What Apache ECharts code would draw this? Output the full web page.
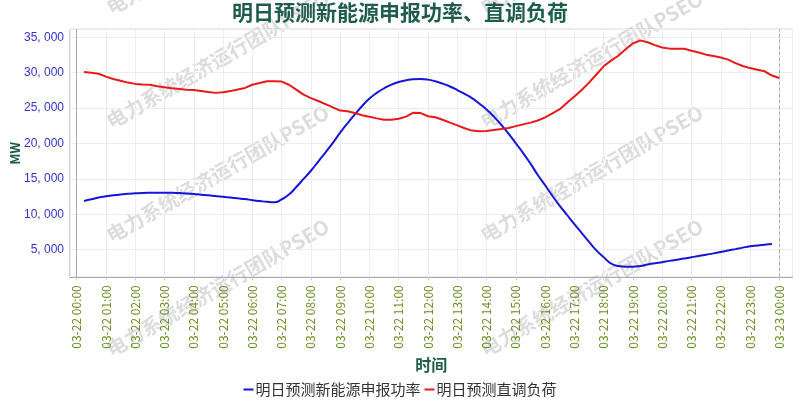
<!DOCTYPE html>
<html>
<head>
<meta charset="utf-8">
<script src="https://cdn.jsdelivr.net/npm/echarts@6/dist/echarts.min.js"></script>
<style>html,body{margin:0;padding:0;background:#fff;}#chart{width:800px;height:400px;}</style>
</head>
<body>
<div id="chart"></div>
<script>
// ---- data ----
const titleText = '明日预测新能源申报功率、直调负荷';
const seriesNames = ['明日预测新能源申报功率', '明日预测直调负荷'];
const xTickLabels = ['03-22 00:00','03-22 01:00','03-22 02:00','03-22 03:00','03-22 04:00','03-22 05:00',
  '03-22 06:00','03-22 07:00','03-22 08:00','03-22 09:00','03-22 10:00','03-22 11:00','03-22 12:00',
  '03-22 13:00','03-22 14:00','03-22 15:00','03-22 16:00','03-22 17:00','03-22 18:00','03-22 19:00',
  '03-22 20:00','03-22 21:00','03-22 22:00','03-22 23:00','03-23 00:00'];
const dayBoundaries = [0, 24];
// 15-minute points 00:15 .. 24:00
const pad = n => (n < 10 ? '0' : '') + n;
const times = [];
for (let m = 15; m <= 1440; m += 15) times.push(pad(Math.floor(m / 60)) + ':' + pad(m % 60));
const newEnergy = [
  11880, 12120, 12380, 12540,
  12680, 12800, 12900, 12960,
  13010, 13040, 13055, 13050,
  13030, 12990, 12950, 12870,
  12770, 12680, 12570, 12470,
  12360, 12250, 12150, 11990,
  11880, 11760, 11700, 12100,
  12780, 13850, 15000, 16150,
  17450, 18760, 20100, 21530,
  22850, 24100, 25300, 26350,
  27150, 27800, 28320, 28680,
  28940, 29080, 29110, 29020,
  28780, 28450, 28050, 27550,
  27000, 26420, 25650, 24800,
  23800, 22650, 21400, 20020,
  18650, 17150, 15550, 14100,
  12600, 11200, 9900, 8600,
  7350, 6100, 4900, 3950,
  3050, 2700, 2600, 2600,
  2700, 2900, 3080, 3240,
  3420, 3580, 3740, 3920,
  4120, 4300, 4480, 4680,
  4880, 5080, 5290, 5480,
  5600, 5710, 5800, null
];
const directLoad = [
  30100, 30000, 29850, 29450,
  29100, 28850, 28600, 28420,
  28350, 28300, 28100, 27950,
  27800, 27700, 27600, 27560,
  27420, 27270, 27150, 27250,
  27400, 27620, 27850, 28300,
  28550, 28780, 28800, 28750,
  28300, 27600, 26900, 26400,
  26000, 25550, 25100, 24650,
  24550, 24300, 24000, 23780,
  23550, 23350, 23350, 23500,
  23800, 24350, 24300, 23850,
  23700, 23350, 22950, 22550,
  22150, 21820, 21720, 21780,
  21920, 22050, 22200, 22450,
  22700, 22950, 23250, 23700,
  24250, 24850, 25750, 26650,
  27550, 28600, 29750, 30900,
  31700, 32400, 33300, 34150,
  34570, 34300, 33900, 33550,
  33400, 33400, 33380, 33100,
  32850, 32550, 32350, 32150,
  31850, 31350, 30950, 30650,
  30420, 30200, 29600, 29250
];
const watermarkText = '电力系统经济运行团队PSEO';

// ---- chart ----
const yMin = 1100, yMax = 36130;
const toHours = t => { const p = t.split(':'); return +p[0] + (+p[1]) / 60; };
const pairs = arr => times.map((t, i) => [toHours(t), arr[i]]);
const fmtNum = v => String(v).replace(/\B(?=(\d{3})+(?!\d))/g, ', ');
const font = '"Noto Sans CJK SC", "Noto Sans", sans-serif';
const teal = '#1F5C4E';

const wm = [];
[108, 482].forEach(x => {
  [9, 123, 237, 351].forEach(y => {
    wm.push({
      type: 'text', x: x, y: y, rotation: Math.PI / 6, z: 0, silent: true,
      style: { text: watermarkText, fill: 'rgba(150,150,150,0.33)', font: 'bold 20px ' + font,
               textAlign: 'left', textVerticalAlign: 'middle' }
    });
  });
});

const chart = echarts.init(document.getElementById('chart'), null, { renderer: 'canvas' });
chart.setOption({
  animation: false,
  backgroundColor: '#fff',
  textStyle: { fontFamily: font },
  title: {
    text: titleText, left: 'center', top: -3,
    textStyle: { fontSize: 21, fontWeight: 'bold', color: teal, fontFamily: font }
  },
  legend: {
    data: seriesNames, bottom: -2, left: 'center', itemGap: 4,
    icon: 'rect', itemWidth: 10, itemHeight: 2,
    textStyle: { fontSize: 15, color: '#333', fontFamily: font, padding: [0, 0, 0, -3] }
  },
  grid: {
    left: 70, right: 7.5, top: 29.3, bottom: 122.7, containLabel: false,
    outerBoundsMode: 'none',
    show: true, borderColor: '#aaa', borderWidth: 1
  },
  xAxis: {
    type: 'value', min: -0.229, max: 24.45, splitNumber: 24,
    name: '时间', nameLocation: 'middle', nameGap: 79,
    nameTextStyle: { fontSize: 16, fontWeight: 'bold', color: teal, fontFamily: font },
    axisLine: { show: true, lineStyle: { color: '#aaa' } },
    axisTick: { show: true, length: 3, lineStyle: { color: '#ccc' } },
    splitLine: { show: true, lineStyle: { color: '#ececec', width: 1 } },
    axisLabel: {
      rotate: 90, fontSize: 12, color: '#6B8E23', margin: 8,
      showMinLabel: false, showMaxLabel: false,
      formatter: v => (Number.isInteger(v) && v >= 0 && v <= 24) ? xTickLabels[v] : ''
    }
  },
  yAxis: {
    type: 'value', min: yMin, max: yMax, splitNumber: 7,
    name: 'MW', nameLocation: 'middle', nameGap: 48, nameMoveOverlap: false,
    nameTextStyle: { fontSize: 13, fontWeight: 'bold', color: teal, fontFamily: font },
    axisLine: { show: true, lineStyle: { color: '#aaa' } },
    axisTick: { show: false },
    splitLine: { show: true, lineStyle: { color: '#ececec', width: 1 } },
    axisLabel: {
      fontSize: 12, color: '#3333CC', margin: 6, fontFamily: 'Liberation Sans, Arial, sans-serif',
      showMinLabel: false, showMaxLabel: false,
      formatter: v => (v % 5000 === 0) ? fmtNum(v) : ''
    }
  },
  graphic: wm,
  series: [
    {
      name: seriesNames[0], type: 'line', data: pairs(newEnergy), showSymbol: false, symbol: 'none',
      smooth: true, lineStyle: { color: '#1515D8', width: 2 }, itemStyle: { color: '#1515D8' }, z: 3,
      markLine: {
        silent: true, symbol: ['none', 'none'], label: { show: false }, z: 4,
        lineStyle: { type: 'dashed', color: '#aaa', width: 1 },
        data: dayBoundaries.map(d => [{ coord: [d, yMin] }, { coord: [d, yMax] }])
      }
    },
    {
      name: seriesNames[1], type: 'line', data: pairs(directLoad), showSymbol: false, symbol: 'none',
      lineStyle: { color: '#E8191A', width: 2 }, itemStyle: { color: '#E8191A' }, z: 3
    }
  ]
});
</script>
</body>
</html>
